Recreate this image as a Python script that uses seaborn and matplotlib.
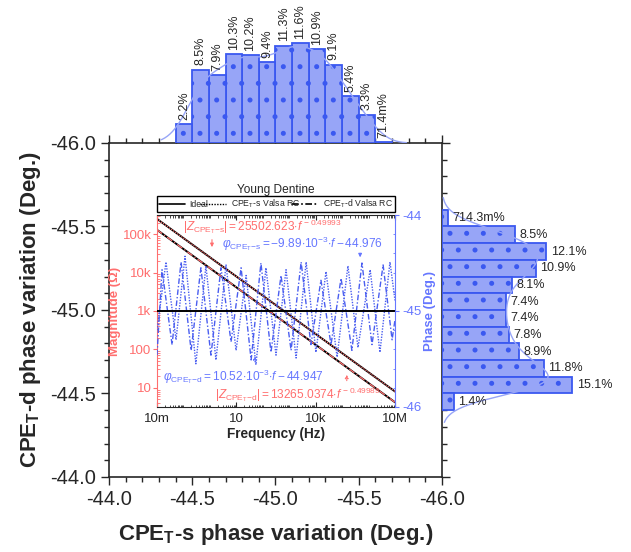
import numpy as np
import pandas as pd
import seaborn as sns
import matplotlib.pyplot as plt
from matplotlib.lines import Line2D
from matplotlib.ticker import MultipleLocator, FixedLocator, FixedFormatter, LogLocator, NullFormatter, FormatStrFormatter

# top histogram: CPE_T-s phase variation (bin centre, % of points)
s_centres = [-44.45, -44.55, -44.65, -44.75, -44.85, -44.95, -45.05,
             -45.15, -45.25, -45.35, -45.45, -45.55, -45.65]
s_pct = [2.2, 8.5, 7.9, 10.3, 10.2, 9.4, 11.3, 11.6, 10.9, 9.1, 5.4, 3.3, 0.0714]
s_labels = ['2.2%', '8.5%', '7.9%', '10.3%', '10.2%', '9.4%', '11.3%',
            '11.6%', '10.9%', '9.1%', '5.4%', '3.3%', '71.4m%']

# right histogram: CPE_T-d phase variation
d_centres = [-45.55, -45.45, -45.35, -45.25, -45.15, -45.05,
             -44.95, -44.85, -44.75, -44.65, -44.55, -44.45]
d_pct = [0.7143, 8.5, 12.1, 10.9, 8.1, 7.4, 7.4, 7.8, 8.9, 11.8, 15.1, 1.4]
d_labels = ['714.3m%', '8.5%', '12.1%', '10.9%', '8.1%', '7.4%', '7.4%',
            '7.8%', '8.9%', '11.8%', '15.1%', '1.4%']

# inset: magnitude fits (end points) and phase ripple (log10 f, deg)
freq_ends = [1e-2, 1e7]
mag_s = [2.5e5, 8.0]
mag_d = [1.3e5, 4.2]
ideal_phase = [-45.0, -45.0]

ph_s_logf = [-2.00, -1.66, -1.28, -0.94, -0.53, -0.15, 0.23, 0.61, 0.99, 1.37, 1.74,
             2.12, 2.50, 2.88, 3.26, 3.64, 4.01, 4.39, 4.81, 5.22, 5.60, 6.06, 6.43,
             6.81, 7.00]
ph_s = [-45.20, -44.49, -45.30, -44.43, -45.55, -44.53, -45.51, -44.52, -45.41, -44.63,
        -45.56, -44.55, -45.46, -44.57, -45.49, -44.49, -45.43, -44.59, -45.48, -44.53,
        -45.38, -44.57, -45.43, -44.49, -44.89]
ph_d_logf = [-2.00, -1.81, -1.43, -1.09, -0.71, -0.34, 0.04, 0.42, 0.80, 1.18, 1.56,
             1.93, 2.31, 2.69, 3.07, 3.45, 3.82, 4.20, 4.58, 4.96, 5.37, 5.75, 6.13,
             6.55, 6.89, 7.00]
ph_d = [-45.46, -44.57, -45.35, -44.49, -45.41, -44.55, -45.46, -44.55, -45.32, -44.55,
        -45.51, -44.50, -45.43, -44.63, -45.41, -44.49, -45.35, -44.68, -45.35, -44.66,
        -45.41, -44.50, -45.35, -44.52, -45.30, -45.09]

freq_ticks = [1e-2, 10, 1e4, 1e7]
freq_labels = ['10m', '10', '10k', '10M']
mag_ticks = [10, 100, 1e3, 1e4, 1e5]
mag_labels = ['10', '100', '1k', '10k', '100k']
phase_ticks = [-46, -45, -44]
phase_labels = ['-46', '-45', '-44']

sns.set_style('ticks')
plt.rcParams['font.family'] = ['Liberation Sans', 'DejaVu Sans']
plt.rcParams['mathtext.fontset'] = 'custom'
plt.rcParams['mathtext.rm'] = 'Liberation Sans'
plt.rcParams['mathtext.it'] = 'Liberation Sans:italic'
plt.rcParams['mathtext.bf'] = 'Liberation Sans:bold'
plt.rcParams['axes.unicode_minus'] = False
plt.rcParams['hatch.linewidth'] = 1.2

salmon = '#ff6e6e'
pblue = '#6677ff'
cblue = '#4a5ef0'
bar_face = '#97a5f7'
bar_edge = '#3a58f0'
kde_col = '#2040ff'

fig = plt.figure(figsize=(6.31, 5.52), dpi=100)
ax = fig.add_axes([0.1727, 0.1359, 0.5277, 0.6051])
ax_top = fig.add_axes([0.1727, 0.7409, 0.5277, 0.2591], sharex=ax)
ax_right = fig.add_axes([0.7005, 0.1359, 0.2995, 0.6051], sharey=ax)

# main axes
for a in (ax.xaxis, ax.yaxis):
    a.set_major_locator(MultipleLocator(0.5))
    a.set_minor_locator(MultipleLocator(0.1))
    a.set_major_formatter(FormatStrFormatter('%.1f'))
ax.tick_params(which='both', direction='out', labelsize=14.5, width=1, top=True, right=True)
ax.tick_params(which='major', length=6)
ax.tick_params(which='minor', length=3.6)
for sp in ax.spines.values():
    sp.set_linewidth(1.2)
ax.set_xlabel(r'CPE$_{\mathbf{T}}$-s phase variation (Deg.)', fontsize=16, fontweight='bold', labelpad=9)
ax.set_ylabel(r'CPE$_{\mathbf{T}}$-d phase variation (Deg.)', fontsize=16, fontweight='bold', labelpad=5)

# marginal histograms
df_s = pd.DataFrame({'phase': s_centres, 'pct': s_pct})
df_d = pd.DataFrame({'phase': d_centres, 'pct': d_pct})
hist_kws = dict(stat='count', binwidth=0.1, kde=True, color=bar_face, edgecolor=bar_edge,
                linewidth=1.3, alpha=1, hatch='.', line_kws=dict(color=kde_col, lw=1))
sns.histplot(data=df_s, x='phase', weights='pct', binrange=(-45.7, -44.4), ax=ax_top,
             kde_kws=dict(bw_adjust=0.45, cut=1.3), **hist_kws)
sns.histplot(data=df_d, y='phase', weights='pct', binrange=(-45.6, -44.4), ax=ax_right,
             kde_kws=dict(bw_adjust=0.35, cut=1.6), **hist_kws)
ax_top.set_ylim(0, 16.6)
ax_right.set_xlim(0, 21.9)
ax.set_xlim(-44, -46)
ax.set_ylim(-44, -46)
for c, p, lab in zip(s_centres, s_pct, s_labels):
    ax_top.text(c, p + 0.5, lab, rotation=90, ha='center', va='bottom', fontsize=9)
for c, p, lab in zip(d_centres, d_pct, d_labels):
    ax_right.text(p + 0.5, c, lab, ha='left', va='center', fontsize=9)
ax_top.axis('off')
ax_right.axis('off')

# inset: Bode-type plot
ax_in = fig.add_axes([0.2488, 0.2627, 0.3772, 0.3478])
ax_in.set_facecolor('white')
ax_ph = ax_in.twinx()
ax_in.set_xscale('log')
ax_in.set_yscale('log')

sns.lineplot(x=freq_ends, y=mag_s, ax=ax_in, color='black', lw=1.4)
sns.lineplot(x=freq_ends, y=mag_d, ax=ax_in, color='black', lw=1.4)
sns.lineplot(x=freq_ends, y=mag_s, ax=ax_in, color=salmon, lw=0.9, linestyle=(0, (1, 1)))
sns.lineplot(x=freq_ends, y=mag_d, ax=ax_in, color=salmon, lw=0.9, linestyle=(0, (5, 2, 1, 2)))
sns.lineplot(x=10 ** np.array(ph_s_logf), y=ph_s, ax=ax_ph, color=cblue, lw=1,
             linestyle=(0, (1, 1)), sort=False, estimator=None)
sns.lineplot(x=10 ** np.array(ph_d_logf), y=ph_d, ax=ax_ph, color=cblue, lw=1,
             linestyle=(0, (4, 1.5, 1, 1.5)), sort=False, estimator=None)
sns.lineplot(x=freq_ends, y=ideal_phase, ax=ax_ph, color='black', lw=1.4)

ax_in.set_xlim(1e-2, 1e7)
ax_in.set_ylim(10 ** 0.5, 10 ** 5.5)
ax_ph.set_ylim(-46, -44)

ax_in.xaxis.set_major_locator(FixedLocator(freq_ticks))
ax_in.xaxis.set_major_formatter(FixedFormatter(freq_labels))
ax_in.xaxis.set_minor_locator(LogLocator(base=10, subs=np.arange(1, 10), numticks=30))
ax_in.xaxis.set_minor_formatter(NullFormatter())
ax_in.yaxis.set_major_locator(FixedLocator(mag_ticks))
ax_in.yaxis.set_major_formatter(FixedFormatter(mag_labels))
ax_in.yaxis.set_minor_locator(LogLocator(base=10, subs=np.arange(1, 10), numticks=30))
ax_in.yaxis.set_minor_formatter(NullFormatter())
ax_ph.yaxis.set_major_locator(FixedLocator(phase_ticks))
ax_ph.yaxis.set_major_formatter(FixedFormatter(phase_labels))
ax_ph.yaxis.set_minor_locator(MultipleLocator(0.2))

ax_in.tick_params(axis='x', which='both', direction='in', top=True, labelsize=9.5, pad=4)
ax_in.tick_params(axis='x', which='major', length=3.5)
ax_in.tick_params(axis='x', which='minor', length=1.8)
ax_in.tick_params(axis='y', which='major', direction='out', length=3, colors=salmon, labelsize=9.5, pad=1)
ax_in.tick_params(axis='y', which='minor', direction='in', length=1.8, colors=salmon)
ax_ph.tick_params(axis='y', which='major', direction='out', length=3, colors=pblue, labelsize=9.5, pad=2)
ax_ph.tick_params(axis='y', which='minor', direction='in', length=1.8, colors=pblue)
ax_in.spines['left'].set_color(salmon)
ax_in.spines['right'].set_visible(False)
for s in ('left', 'top', 'bottom'):
    ax_ph.spines[s].set_visible(False)
ax_ph.spines['right'].set_color(pblue)

ax_in.set_xlabel('Frequency (Hz)', fontsize=9.8, fontweight='bold', labelpad=2)
ax_in.set_ylabel('Magnitude (\u03a9)', fontsize=9.5, fontweight='bold', color=salmon, labelpad=1)
ax_ph.set_ylabel('Phase (Deg.)', fontsize=9.5, fontweight='bold', color=pblue, labelpad=2)
ax_in.set_title('Young Dentine', fontsize=8.6, pad=16)

handles = [Line2D([], [], color='black', lw=1.2),
           Line2D([], [], color='black', lw=1, linestyle=(0, (1, 1))),
           Line2D([], [], color='black', lw=1.2, linestyle=(0, (4, 1.5, 1, 1.5)))]
labels = ['Ideal', r'CPE$_\mathrm{T}$-s Valsa RC', r'CPE$_\mathrm{T}$-d Valsa RC']
leg = ax_in.legend(handles, labels, loc='lower left', bbox_to_anchor=(0, 1.016, 1, 0.06),
                   mode='expand', ncol=3, fontsize=6.2, frameon=True, fancybox=False,
                   edgecolor='black', framealpha=1, borderpad=0.2, handlelength=3,
                   handletextpad=0.6, borderaxespad=0, columnspacing=1)
leg.get_frame().set_linewidth(1)

ax_in.text(0.109, 0.94, r'$|Z_{\mathrm{CPE_T{-}s}}| = 25502.623{\cdot}f^{\,-0.49993}$',
           transform=ax_in.transAxes, color=salmon, fontsize=8.6, va='center', ha='left')
ax_in.text(0.272, 0.85, r'$\varphi_{\mathrm{CPE_T{-}s}} = -9.89{\cdot}10^{-3}{\cdot}f - 44.976$',
           transform=ax_in.transAxes, color=pblue, fontsize=8.6, va='center', ha='left')
ax_in.text(0.025, 0.158, r'$\varphi_{\mathrm{CPE_T{-}d}} = 10.52{\cdot}10^{-3}{\cdot}f - 44.947$',
           transform=ax_in.transAxes, color=pblue, fontsize=8.6, va='center', ha='left')
ax_in.text(0.244, 0.065, r'$|Z_{\mathrm{CPE_T{-}d}}| = 13265.0374{\cdot}f^{\,-0.49989}$',
           transform=ax_in.transAxes, color=salmon, fontsize=8.6, va='center', ha='left')

arrow_r = dict(arrowstyle='-|>', color=salmon, lw=0.8, mutation_scale=5)
arrow_b = dict(arrowstyle='-|>', color=pblue, lw=0.8, mutation_scale=5)
ax_in.annotate('', xy=(1.2, 3.9e4), xytext=(1.2, 8.5e4), arrowprops=arrow_r)
ax_in.annotate('', xy=(1.5e5, 26), xytext=(1.5e5, 13), arrowprops=dict(arrow_r, linestyle=':'))
ax_ph.annotate('', xy=(4.8e5, -44.47), xytext=(4.8e5, -44.37), arrowprops=arrow_b)
ax_ph.annotate('', xy=(51, -45.44), xytext=(51, -45.56), arrowprops=dict(arrow_b, linestyle=':'))

fig.savefig('out.png', dpi=100)
